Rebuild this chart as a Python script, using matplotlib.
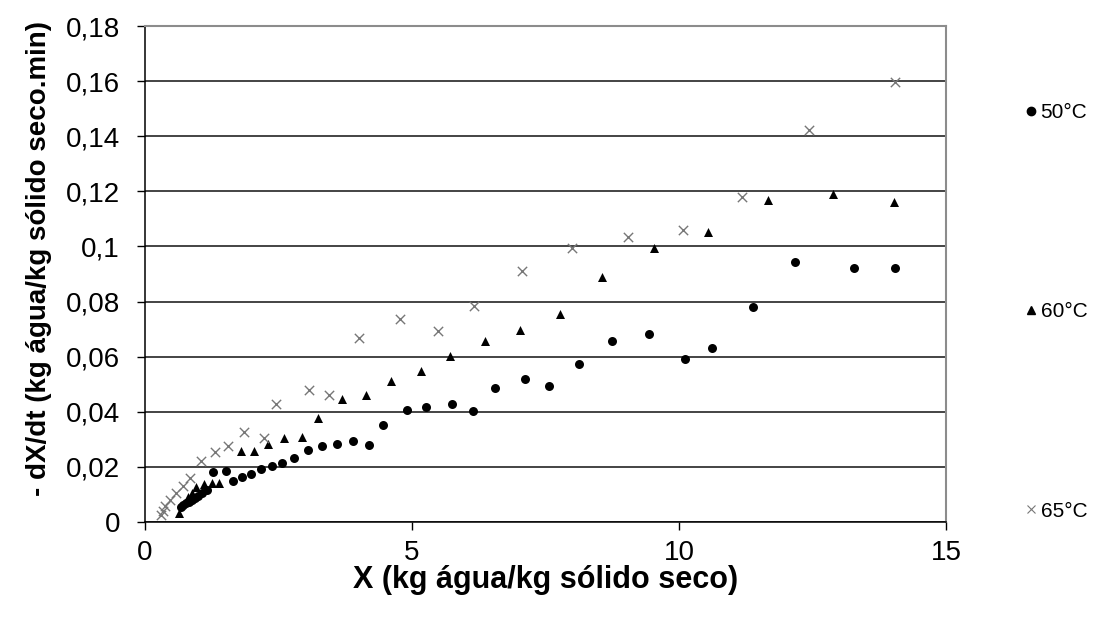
import matplotlib
matplotlib.use("Agg")
import matplotlib.pyplot as plt
from matplotlib.lines import Line2D
from matplotlib.ticker import FuncFormatter

plt.rcParams['font.family'] = ['Liberation Sans', 'DejaVu Sans']

# 50 °C
x50 = [0.68, 0.72, 0.76, 0.82, 0.88, 0.94, 1.00, 1.06, 1.16, 1.27, 1.52, 1.64, 1.81, 1.98,
       2.17, 2.37, 2.57, 2.79, 3.05, 3.32, 3.60, 3.89, 4.20, 4.45, 4.90, 5.27, 5.75, 6.14,
       6.56, 7.12, 7.56, 8.12, 8.75, 9.44, 10.12, 10.61, 11.38, 12.18, 13.28, 14.04]
y50 = [0.0055, 0.0062, 0.0068, 0.0074, 0.0080, 0.0088, 0.0095, 0.0105, 0.0116, 0.0180, 0.0185,
       0.0149, 0.0162, 0.0174, 0.0192, 0.0205, 0.0213, 0.0234, 0.0262, 0.0274, 0.0282, 0.0295,
       0.0279, 0.0351, 0.0407, 0.0416, 0.0430, 0.0403, 0.0487, 0.0520, 0.0495, 0.0574, 0.0658,
       0.0682, 0.0591, 0.0631, 0.0781, 0.0944, 0.0921, 0.0921]

# 60 °C
x60 = [0.64, 0.80, 0.88, 0.96, 1.11, 1.25, 1.39, 1.79, 2.05, 2.30, 2.61, 2.94, 3.24, 3.68,
       4.13, 4.61, 5.16, 5.71, 6.37, 7.03, 7.77, 8.55, 9.54, 10.54, 11.66, 12.88, 14.03]
y60 = [0.0033, 0.0090, 0.0105, 0.0126, 0.0138, 0.0142, 0.0142, 0.0259, 0.0258, 0.0282, 0.0306,
       0.0310, 0.0377, 0.0447, 0.0462, 0.0512, 0.0547, 0.0603, 0.0658, 0.0695, 0.0755, 0.0890,
       0.0994, 0.1054, 0.1167, 0.1189, 0.1163]

# 65 °C
x65 = [0.30, 0.34, 0.38, 0.46, 0.58, 0.72, 0.84, 1.04, 1.31, 1.56, 1.85, 2.22, 2.46, 3.08,
       3.44, 4.01, 4.78, 5.48, 6.16, 7.06, 7.99, 9.05, 10.07, 11.18, 12.43, 14.04]
y65 = [0.0025, 0.0040, 0.0058, 0.0080, 0.0104, 0.0131, 0.0159, 0.0223, 0.0255, 0.0276, 0.0326,
       0.0304, 0.0428, 0.0478, 0.0460, 0.0667, 0.0736, 0.0694, 0.0784, 0.0911, 0.0994, 0.1036,
       0.1061, 0.1181, 0.1423, 0.1595]

series_labels = ['50°C', '60°C', '65°C']
x_ticks = [0, 5, 10, 15]
y_ticks = [0, 0.02, 0.04, 0.06, 0.08, 0.10, 0.12, 0.14, 0.16, 0.18]

fig = plt.figure(figsize=(10.95, 6.22), dpi=100)
ax = fig.add_axes([145/1095, 1 - 522/622, (946 - 145)/1095, (522 - 26)/622])

ax.set_xlim(0, 15)
ax.set_ylim(0, 0.18)
ax.set_xticks(x_ticks)
ax.set_yticks(y_ticks)

def yfmt(v, pos):
    s = ('%.2f' % v).rstrip('0').rstrip('.')
    return s.replace('.', ',')

ax.yaxis.set_major_formatter(FuncFormatter(yfmt))
ax.xaxis.set_major_formatter(FuncFormatter(lambda v, p: '%d' % v))

ax.yaxis.grid(True, color='#111111', linewidth=1.1)
ax.xaxis.grid(False)
ax.set_axisbelow(True)

for s in ['top', 'right']:
    ax.spines[s].set_color('#8c8c8c')
    ax.spines[s].set_linewidth(1.5)
for s in ['left', 'bottom']:
    ax.spines[s].set_color('black')
    ax.spines[s].set_linewidth(1.1)

ax.tick_params(axis='both', direction='out', length=6, width=1, labelsize=20, colors='black')
ax.tick_params(axis='x', pad=7)
ax.tick_params(axis='y', pad=12)

ax.scatter(x50, y50, marker='o', s=42, color='black', linewidths=0, zorder=3)
ax.scatter(x60, y60, marker='^', s=42, color='black', linewidths=0, zorder=3)
ax.scatter(x65, y65, marker='x', s=45, color='#777777', linewidths=1.0, zorder=3)

ax.set_xlabel('X (kg água/kg sólido seco)', fontsize=22, fontweight='bold')
ax.set_ylabel('- dX/dt (kg água/kg sólido seco.min)', fontsize=20, fontweight='bold')
ax.xaxis.set_label_coords(0.5, (522 - 565) / 496)
ax.yaxis.set_label_coords((52 - 145) / 801, (522 - 259) / 496)

handles = [
    Line2D([], [], linestyle='none', marker='o', markersize=6, color='black'),
    Line2D([], [], linestyle='none', marker='^', markersize=6, color='black'),
    Line2D([], [], linestyle='none', marker='x', markersize=6, color='#777777', markeredgewidth=0.8),
]
fig.legend(handles, series_labels, loc='center left', bbox_to_anchor=(1025/1095, 1 - 312/622),
           frameon=False, fontsize=15, labelspacing=8.65, handlelength=0.6,
           handletextpad=0.15, borderpad=0, borderaxespad=0)

fig.savefig('out.png', dpi=100)
